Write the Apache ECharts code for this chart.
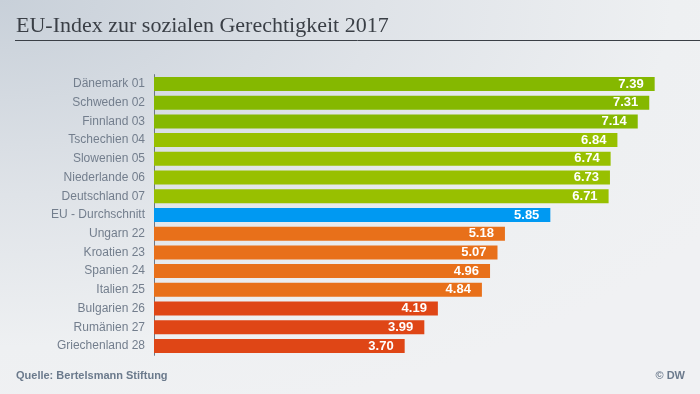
<!DOCTYPE html>
<html><head><meta charset="utf-8">
<script src="https://cdn.jsdelivr.net/npm/echarts@6/dist/echarts.min.js"></script>
<style>
html,body{margin:0;padding:0;}
#c{width:700px;height:394px;background:radial-gradient(ellipse 120% 110% at 0% 0%, #c8d0d9 0%, #dfe3e8 45%, #eef0f2 80%, #f0f1f3 100%);}
</style></head><body>
<div id="c"></div>
<script>
const categories = ["Dänemark 01","Schweden 02","Finnland 03","Tschechien 04","Slowenien 05","Niederlande 06","Deutschland 07","EU - Durchschnitt","Ungarn 22","Kroatien 23","Spanien 24","Italien 25","Bulgarien 26","Rumänien 27","Griechenland 28"];
const values = [7.39,7.31,7.14,6.84,6.74,6.73,6.71,5.85,5.18,5.07,4.96,4.84,4.19,3.99,3.70];
const colors = ["#85b800","#85b800","#85b800","#98c000","#98c000","#98c000","#98c000","#0099f2","#e8701a","#e8701a","#e8701a","#e8701a","#df4616","#df4616","#df4616"];
const title = "EU-Index zur sozialen Gerechtigkeit 2017";
const source = "Quelle: Bertelsmann Stiftung";
const credit = "© DW";

const chart = echarts.init(document.getElementById('c'), null, {renderer:'canvas'});
chart.setOption({
  backgroundColor: 'transparent',
  animation: false,
  title: {
    text: title, left: 11, top: 10,
    textStyle: {fontFamily: '"Liberation Serif", serif', fontWeight: 'normal', fontSize: 22, color: '#3a3f46'}
  },
  graphic: [
    {type:'line', shape:{x1:15,y1:40.5,x2:700,y2:40.5}, style:{stroke:'#3a3f46', lineWidth:1}},
    {type:'text', left:16, top:370, style:{text:source, font:'bold 11px "Liberation Sans", Arial', fill:'#6b7a8c'}},
    {type:'text', right:15, top:370, style:{text:credit, font:'bold 11px "Liberation Sans", Arial', fill:'#6b7a8c'}}
  ],
  grid: {left: 154, top: 74.6, height: 280.7, width: 542},
  xAxis: {type:'value', min:0, max:8, show:false},
  yAxis: {
    type:'category', data: categories, inverse: true,
    axisLine: {show:true, lineStyle:{color:'#6d7785', width:1}},
    axisTick: {show:false},
    axisLabel: {color:'#737e8d', fontSize:12, fontFamily:'"Liberation Sans", Arial', margin:9}
  },
  series: [{
    type:'bar', barWidth:14,
    data: values.map((v,i)=>({value:v, itemStyle:{color:colors[i]}})),
    label: {show:true, position:'insideRight', offset:[-6,0], color:'#fff', fontWeight:'bold', fontSize:13, fontFamily:'"Liberation Sans", Arial',
      formatter: p => p.value.toFixed(2)}
  }]
});
</script>
</body></html>
